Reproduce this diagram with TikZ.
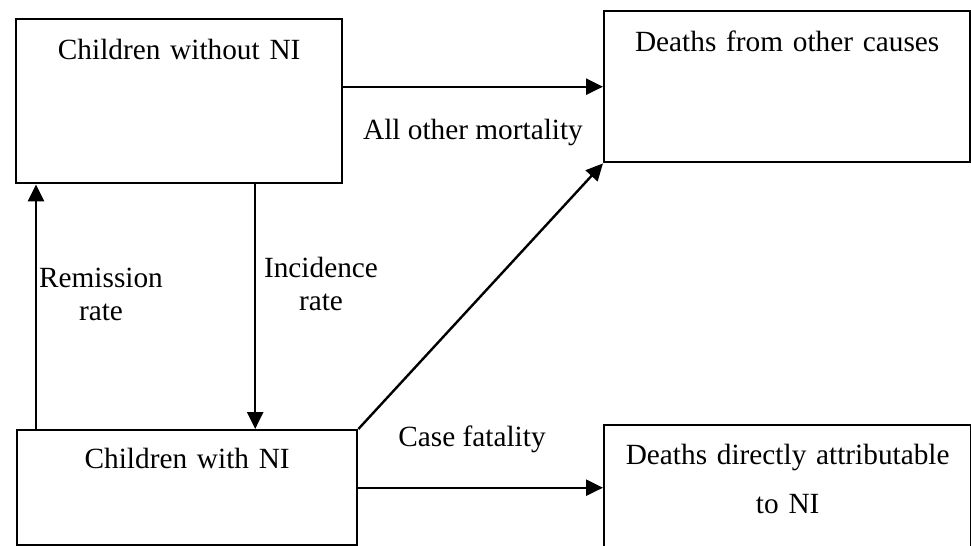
\documentclass[tikz,border=0pt]{standalone}
\usepackage{fontspec}
\setmainfont{Liberation Serif}
\usetikzlibrary{arrows.meta}

\begin{document}
\begin{tikzpicture}[x=0.5pt, y=-0.5pt, line width=1.2pt,
  font=\fontsize{14.65pt}{17.5pt}\selectfont,
  state/.style = {draw, inner sep=0pt, align=center, anchor=north west},
  flow/.style = {-{Triangle[length=8.5pt, width=8pt]}},
  rate/.style = {align=center, anchor=base}]
\useasboundingbox (0,0) rectangle (971,546);

% compartments
\node[state, text width=163pt, text height=20pt, text depth=62pt] (without) at (15,18) {Children without NI};
\node[state, text width=183pt, text height=20pt, text depth=55.5pt] (other) at (603,10) {Deaths from other causes};
\node[state, text width=170pt, text height=19pt, text depth=38.5pt] (withNI) at (16,429) {Children with NI};
\node[state, text width=183.5pt, text height=19.5pt, text depth=70pt] (attrib) at (603,424) {Deaths directly attributable\\[7pt] to NI};

% transitions
\draw[flow] (without.east |- other.west) -- (other.west);
\draw[flow] ([xshift=38pt]without.south) -- ([xshift=38pt]without.south |- withNI.north);
\draw[flow] ([xshift=10pt]withNI.north west) -- ([xshift=10pt]withNI.north west |- without.south);
\draw[flow] (withNI.north east) -- (other.south west);
\draw[flow] (withNI.east) -- (withNI.east -| attrib.west);

% rates
\node[rate] (allother) at (473,139) {All other mortality};
\node[rate] (remission) at (101,320) {Remission\\[-1pt] rate};
\node[rate] (incidence) at (321,310) {Incidence\\[-1pt] rate};
\node[rate] (fatality) at (472,446) {Case fatality};
\end{tikzpicture}
\end{document}
